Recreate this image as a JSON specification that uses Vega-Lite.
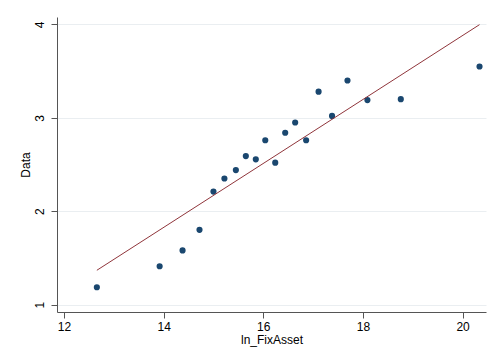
{
  "$schema": "https://vega.github.io/schema/vega-lite/v6.json",
  "width": 429,
  "height": 295,
  "autosize": {"type": "none"},
  "padding": {"left": 57, "top": 17, "right": 6, "bottom": 48},
  "background": "white",
  "config": {
    "view": {"stroke": null},
    "font": "Liberation Sans",
    "axis": {
      "labelFont": "Liberation Sans",
      "titleFont": "Liberation Sans",
      "labelFontSize": 12,
      "titleFontSize": 12,
      "titleFontWeight": "normal",
      "labelColor": "#000000",
      "titleColor": "#000000",
      "domainColor": "#555555",
      "tickColor": "#555555",
      "tickSize": 6,
      "domainWidth": 1,
      "tickWidth": 1
    }
  },
  "layer": [
    {
      "data": {
        "values": [
          {"ln_FixAsset": 12.66, "Data": 1.185},
          {"ln_FixAsset": 13.92, "Data": 1.41},
          {"ln_FixAsset": 14.38, "Data": 1.58},
          {"ln_FixAsset": 14.72, "Data": 1.80},
          {"ln_FixAsset": 15.00, "Data": 2.21},
          {"ln_FixAsset": 15.22, "Data": 2.35},
          {"ln_FixAsset": 15.45, "Data": 2.44},
          {"ln_FixAsset": 15.65, "Data": 2.59},
          {"ln_FixAsset": 15.85, "Data": 2.555},
          {"ln_FixAsset": 16.04, "Data": 2.76},
          {"ln_FixAsset": 16.24, "Data": 2.52},
          {"ln_FixAsset": 16.44, "Data": 2.84},
          {"ln_FixAsset": 16.64, "Data": 2.95},
          {"ln_FixAsset": 16.86, "Data": 2.76},
          {"ln_FixAsset": 17.11, "Data": 3.28},
          {"ln_FixAsset": 17.38, "Data": 3.02},
          {"ln_FixAsset": 17.69, "Data": 3.40},
          {"ln_FixAsset": 18.09, "Data": 3.19},
          {"ln_FixAsset": 18.76, "Data": 3.20},
          {"ln_FixAsset": 20.34, "Data": 3.55}
        ]
      },
      "mark": {"type": "point", "filled": true, "size": 38, "opacity": 1, "color": "#1a476f"},
      "encoding": {
        "x": {
          "field": "ln_FixAsset", "type": "quantitative",
          "scale": {"domain": [11.86, 20.47], "nice": false, "zero": false},
          "axis": {"values": [12, 14, 16, 18, 20], "format": "d", "grid": false, "title": "ln_FixAsset", "labelPadding": 3, "titlePadding": 2}
        },
        "y": {
          "field": "Data", "type": "quantitative",
          "scale": {"domain": [0.92, 4.08], "nice": false, "zero": false},
          "axis": {"values": [1, 2, 3, 4], "format": "d", "grid": true, "gridColor": "#eaeef1", "gridWidth": 1, "title": "Data", "labelAngle": 270, "labelAlign": "center", "labelBaseline": "bottom", "labelPadding": 5, "titlePadding": 1}
        }
      }
    },
    {
      "data": {
        "values": [
          {"ln_FixAsset": 12.66, "Fitted": 1.367},
          {"ln_FixAsset": 20.34, "Fitted": 3.998}
        ]
      },
      "mark": {"type": "line", "color": "#90353b", "strokeWidth": 1},
      "encoding": {
        "x": {"field": "ln_FixAsset", "type": "quantitative"},
        "y": {"field": "Fitted", "type": "quantitative"}
      }
    }
  ]
}
